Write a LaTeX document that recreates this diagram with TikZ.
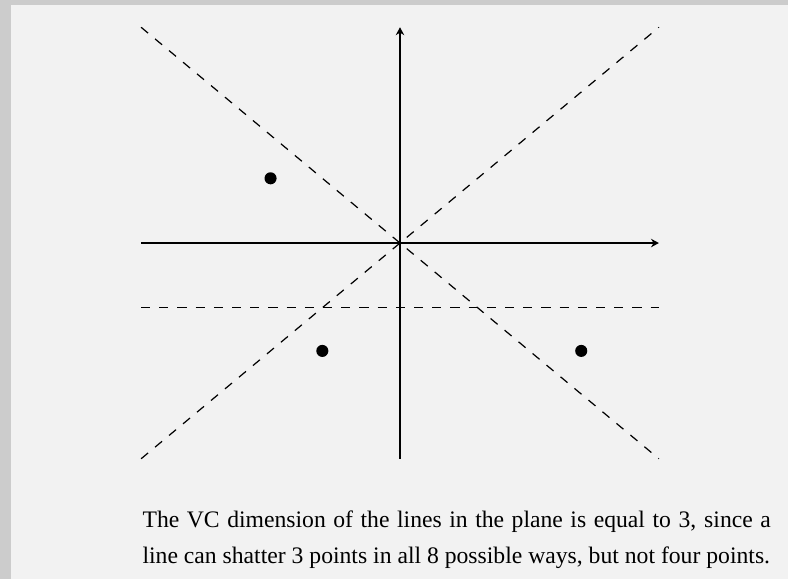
\documentclass[tikz,border=0pt]{standalone}
\usepackage{fontspec}
\setmainfont{Liberation Serif}
\usepackage{xcolor}
\definecolor{framegray}{HTML}{CCCCCC}
\definecolor{panelgray}{HTML}{F2F2F2}
\usetikzlibrary{
  positioning,
  arrows.meta
}

\begin{document}
\begin{tikzpicture}[
  axis/.style={
    -{Stealth[length=2.6pt,width=2.8pt]},
    line width=0.4pt
  },
  sepline/.style={
    dashed,
    line width=0.4pt
  },
  pt/.style={
    circle,
    fill=black,
    inner sep=0pt,
    minimum size=0.14cm
  },
  caption/.style={
    font=\fontsize{7.8}{11.6}\selectfont,
    text width=7.28cm,
    align=justify,
    inner sep=0pt,
    anchor=north west
  }
]

% Frame and panel
\useasboundingbox (-4.635,-3.893) rectangle (4.496,2.816);
\fill[framegray] (-4.635,-3.893) rectangle (4.496,2.816);
\fill[panelgray] (-4.5075,-3.893) rectangle (4.496,2.758);

% Axis ends
\coordinate (o) at (0,0);
\coordinate (xl) at (-3,0);
\coordinate (xr) at (3,0);
\coordinate (yb) at (0,-2.5);
\coordinate (yt) at (0,2.5);

% Separating lines
\coordinate (tl) at (-3,2.5);
\coordinate (br) at (3,-2.5);
\coordinate (bl) at (-3,-2.5);
\coordinate (tr) at (3,2.5);
\coordinate (hl) at (-3,-0.75);
\coordinate (hr) at (3,-0.75);

\draw[sepline] (tl) -- (br);
\draw[sepline] (bl) -- (tr);
\draw[sepline] (hl) -- (hr);

% Axes
\draw[axis] (xl) -- (xr);
\draw[axis] (yb) -- (yt);

% Points
\node[pt] (p1) at (-1.5,0.75) {};
\node[pt] (p2) at (-0.9,-1.25) {};
\node[pt] (p3) at (2.1,-1.25) {};

% Caption
\node[caption] (cap) at (-2.99,-3.1)
  {The VC dimension of the lines in the plane is equal to 3, since a\linebreak
   line can shatter 3 points in all 8 possible ways, but not four points.};

\end{tikzpicture}
\end{document}
